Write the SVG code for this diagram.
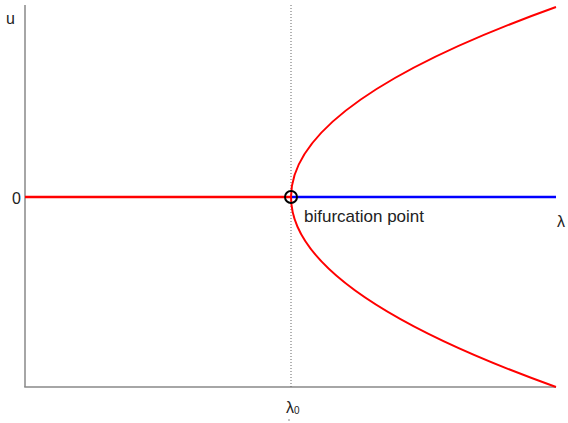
<svg xmlns="http://www.w3.org/2000/svg" width="568" height="423" viewBox="0 0 568 423">
<style>
text{font-family:"Liberation Sans",Arial,sans-serif;fill:#222;}
.axis{stroke:#888;stroke-width:1.5;fill:none;}
</style>
<rect width="568" height="423" fill="#fff"/>
<g id="axes">
<line class="axis" x1="25" y1="5" x2="25" y2="387"/>
<line class="axis" x1="24.25" y1="387" x2="556" y2="387"/>
<line x1="291" y1="5" x2="291" y2="387" stroke="#666" stroke-width="1" stroke-dasharray="1,2"/>
<line x1="289" y1="419" x2="289" y2="421" stroke="#888" stroke-width="1"/>
</g>
<g id="connectors">
<line x1="25" y1="197" x2="291" y2="197" stroke="#f00" stroke-width="2.5"/>
<line x1="291" y1="197" x2="556" y2="197" stroke="#00f" stroke-width="2.5"/>
<path d="M556,7 Q26,197 556,387" fill="none" stroke="#f00" stroke-width="2"/>
</g>
<g id="bifurcation">
<circle cx="291" cy="197" r="6" fill="none" stroke="#000" stroke-width="2"/>
<text x="304" y="222" font-size="17">bifurcation point</text>
</g>
<g id="labels">
<text x="6" y="24" font-size="16">u</text>
<text x="21" y="204" font-size="16" text-anchor="end">0</text>
<text x="557" y="227" font-size="16">λ</text>
<text x="286" y="413" font-size="16">λ<tspan font-size="10" dy="1">0</tspan></text>
</g>
</svg>
